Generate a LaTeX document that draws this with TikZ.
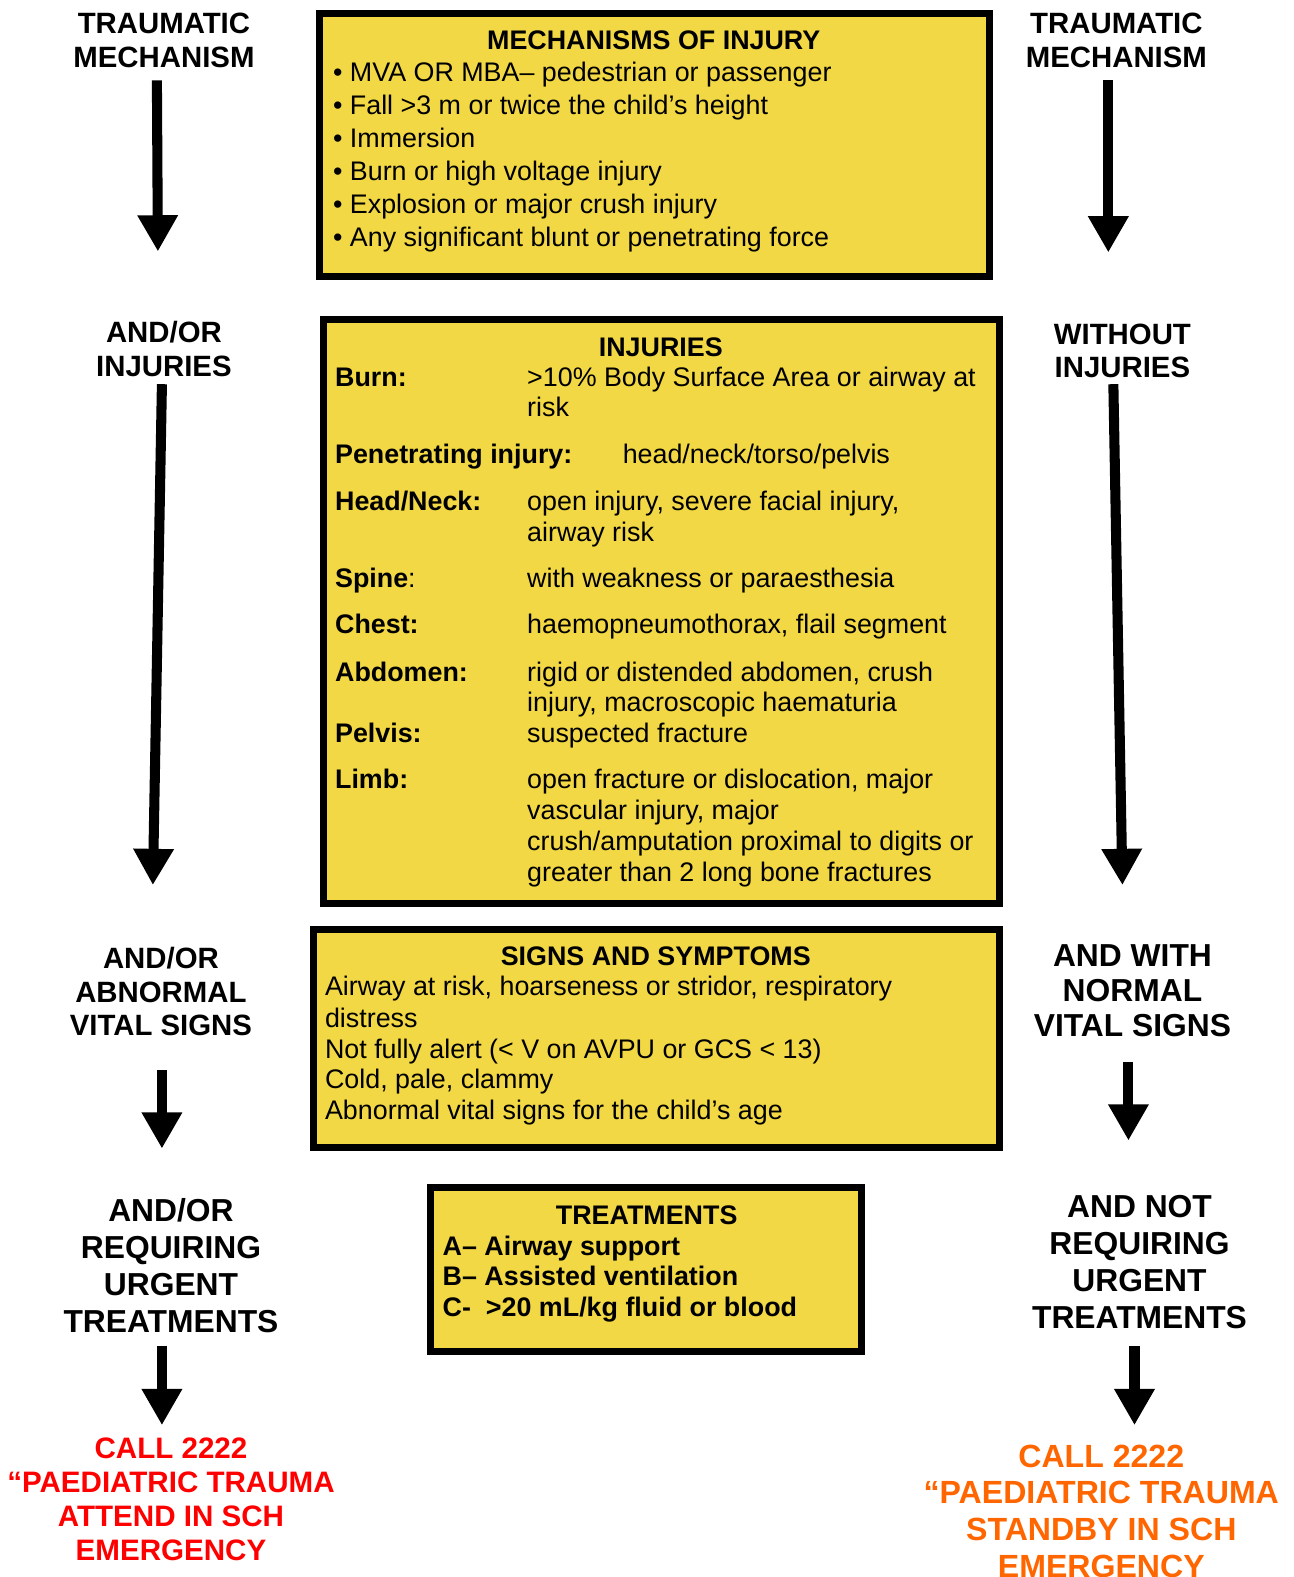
\documentclass[tikz,border=0pt]{standalone}
\usepackage{fontspec}
\setmainfont{Liberation Sans}
\usetikzlibrary{arrows.meta}
\definecolor{boxyellow}{RGB}{242,216,68}
\definecolor{callred}{RGB}{255,0,0}
\definecolor{callorange}{RGB}{255,102,0}
\tikzset{
  ybox/.style={draw=black, fill=boxyellow, line width=7pt, inner sep=0pt, outer sep=0pt},
  body/.style={anchor=base west, inner sep=0pt, font=\fontsize{26.7}{26.7}\selectfont},
  bbody/.style={anchor=base west, inner sep=0pt, font=\fontsize{26.7}{26.7}\selectfont\bfseries},
  boxtitle/.style={anchor=base, inner sep=0pt, font=\fontsize{26.7}{26.7}\selectfont\bfseries},
  side/.style={align=center, inner sep=0pt, font=\fontsize{29.2}{33.5}\selectfont\bfseries},
  bigside/.style={align=center, inner sep=0pt, font=\fontsize{31.6}{36.8}\selectfont\bfseries},
  flow/.style={line width=10pt, -{Triangle[width=38pt,length=36pt]}},
}
\begin{document}
\begin{tikzpicture}[x=1pt,y=-1pt]
\useasboundingbox (0,0) rectangle (1286,1568);
\fill[white] (0,0) rectangle (1286,1568);

% ---------- boxes ----------
\node[ybox, minimum width=666pt, minimum height=261pt] (mech) at (650.5,144) {};
\node[ybox, minimum width=672pt, minimum height=581pt] (inj) at (657.5,608) {};
\node[ybox, minimum width=682pt, minimum height=216pt] (signs) at (652.5,1032.5) {};
\node[ybox, minimum width=428pt, minimum height=163pt] (treat) at (642.5,1262) {};

% ---------- mechanisms ----------
\node[boxtitle] (mt) at (650,49.5) {MECHANISMS OF INJURY};
\node[body] (m1) at (331,81.5) {\textbullet{} MVA OR MBA– pedestrian or passenger};
\node[body] (m2) at (331,114.3) {\textbullet{} Fall >3 m or twice the child’s height};
\node[body] (m3) at (331,147.1) {\textbullet{} Immersion};
\node[body] (m4) at (331,179.9) {\textbullet{} Burn or high voltage injury};
\node[body] (m5) at (331,212.7) {\textbullet{} Explosion or major crush injury};
\node[body] (m6) at (331,245.5) {\textbullet{} Any significant blunt or penetrating force};

% ---------- injuries ----------
\node[boxtitle] (it) at (657,354.3) {INJURIES};
\node[bbody] (i1l) at (333,384.3) {Burn:};
\node[body] (i1a) at (524,384.3) {>10\% Body Surface Area or airway at};
\node[body] (i1b) at (524,414.3) {risk};
\node[bbody] (i2l) at (333,461.3) {Penetrating injury:};
\node[body] (i2a) at (619,461.3) {head/neck/torso/pelvis};
\node[bbody] (i3l) at (333,507.3) {Head/Neck:};
\node[body] (i3a) at (524,507.3) {open injury, severe facial injury,};
\node[body] (i3b) at (524,538.3) {airway risk};
\node[body] (i4l) at (333,584.3) {\textbf{Spine}:};
\node[body] (i4a) at (524,584.3) {with weakness or paraesthesia};
\node[bbody] (i5l) at (333,630.3) {Chest:};
\node[body] (i5a) at (524,630.3) {haemopneumothorax, flail segment};
\node[bbody] (i6l) at (333,677.3) {Abdomen:};
\node[body] (i6a) at (524,677.3) {rigid or distended abdomen, crush};
\node[body] (i6b) at (524,707.3) {injury, macroscopic haematuria};
\node[bbody] (i7l) at (333,738.3) {Pelvis:};
\node[body] (i7a) at (524,738.3) {suspected fracture};
\node[bbody] (i8l) at (333,784.3) {Limb:};
\node[body] (i8a) at (524,784.3) {open fracture or dislocation, major};
\node[body] (i8b) at (524,815.3) {vascular injury, major};
\node[body] (i8c) at (524,845.3) {crush/amputation proximal to digits or};
\node[body] (i8d) at (524,876.3) {greater than 2 long bone fractures};

% ---------- signs ----------
\node[boxtitle] (st) at (652,960.3) {SIGNS AND SYMPTOMS};
\node[body] (s1) at (323,990.3) {Airway at risk, hoarseness or stridor, respiratory};
\node[body] (s2) at (323,1021.3) {distress};
\node[body] (s3) at (323,1052.3) {Not fully alert (< V on AVPU or GCS < 13)};
\node[body] (s4) at (323,1082.3) {Cold, pale, clammy};
\node[body] (s5) at (323,1113.3) {Abnormal vital signs for the child’s age};

% ---------- treatments ----------
\node[boxtitle] (tt) at (643,1217.3) {TREATMENTS};
\node[bbody] (t1) at (440,1248.3) {A– Airway support};
\node[bbody] (t2) at (440,1278.3) {B– Assisted ventilation};
\node[bbody] (t3) at (440,1309.3) {C-\ \ >20 mL/kg fluid or blood};

% ---------- left column ----------
\node[side] (l1) at (163,40.5) {TRAUMATIC\\MECHANISM};
\node[side] (l2) at (163,347) {AND/OR\\INJURIES};
\node[side] (l3) at (160,986) {AND/OR\\ABNORMAL\\VITAL SIGNS};
\node[bigside] (l4) at (170,1258) {AND/OR\\REQUIRING\\URGENT\\TREATMENTS};
\node[side, text=callred, font=\fontsize{29.4}{33.7}\selectfont\bfseries] (l5) at (170,1490.5) {CALL 2222\\“PAEDIATRIC TRAUMA\\ATTEND IN SCH\\EMERGENCY};

% ---------- right column ----------
\node[side] (r1) at (1110,40.5) {TRAUMATIC\\MECHANISM};
\node[side] (r2) at (1116,349) {WITHOUT\\INJURIES};
\node[bigside, font=\fontsize{31.6}{35}\selectfont\bfseries] (r3) at (1126,985) {AND WITH\\NORMAL\\VITAL SIGNS};
\node[bigside] (r4) at (1133,1254.5) {AND NOT\\REQUIRING\\URGENT\\TREATMENTS};
\node[bigside, text=callorange, font=\fontsize{31.9}{36.4}\selectfont\bfseries] (r5) at (1095,1502.5) {CALL 2222\\“PAEDIATRIC TRAUMA\\STANDBY IN SCH\\EMERGENCY};

% ---------- arrow end points ----------
\coordinate (la1s) at (156,80);   \coordinate (la1e) at (157,250);
\coordinate (la2s) at (161,382);  \coordinate (la2e) at (152,880);
\coordinate (la3s) at (161,1064); \coordinate (la3e) at (161,1142);
\coordinate (la4s) at (161,1338); \coordinate (la4e) at (161,1417);
\coordinate (ra1s) at (1102,80);  \coordinate (ra1e) at (1102,251);
\coordinate (ra2s) at (1107,382); \coordinate (ra2e) at (1116,880);
\coordinate (ra3s) at (1122,1056);\coordinate (ra3e) at (1122,1134);
\coordinate (ra4s) at (1128,1338);\coordinate (ra4e) at (1128,1417);

\draw[flow] (la1s) -- (la1e);
\draw[flow] (la2s) -- (la2e);
\draw[flow] (la3s) -- (la3e);
\draw[flow] (la4s) -- (la4e);
\draw[flow] (ra1s) -- (ra1e);
\draw[flow] (ra2s) -- (ra2e);
\draw[flow] (ra3s) -- (ra3e);
\draw[flow] (ra4s) -- (ra4e);
\end{tikzpicture}
\end{document}
